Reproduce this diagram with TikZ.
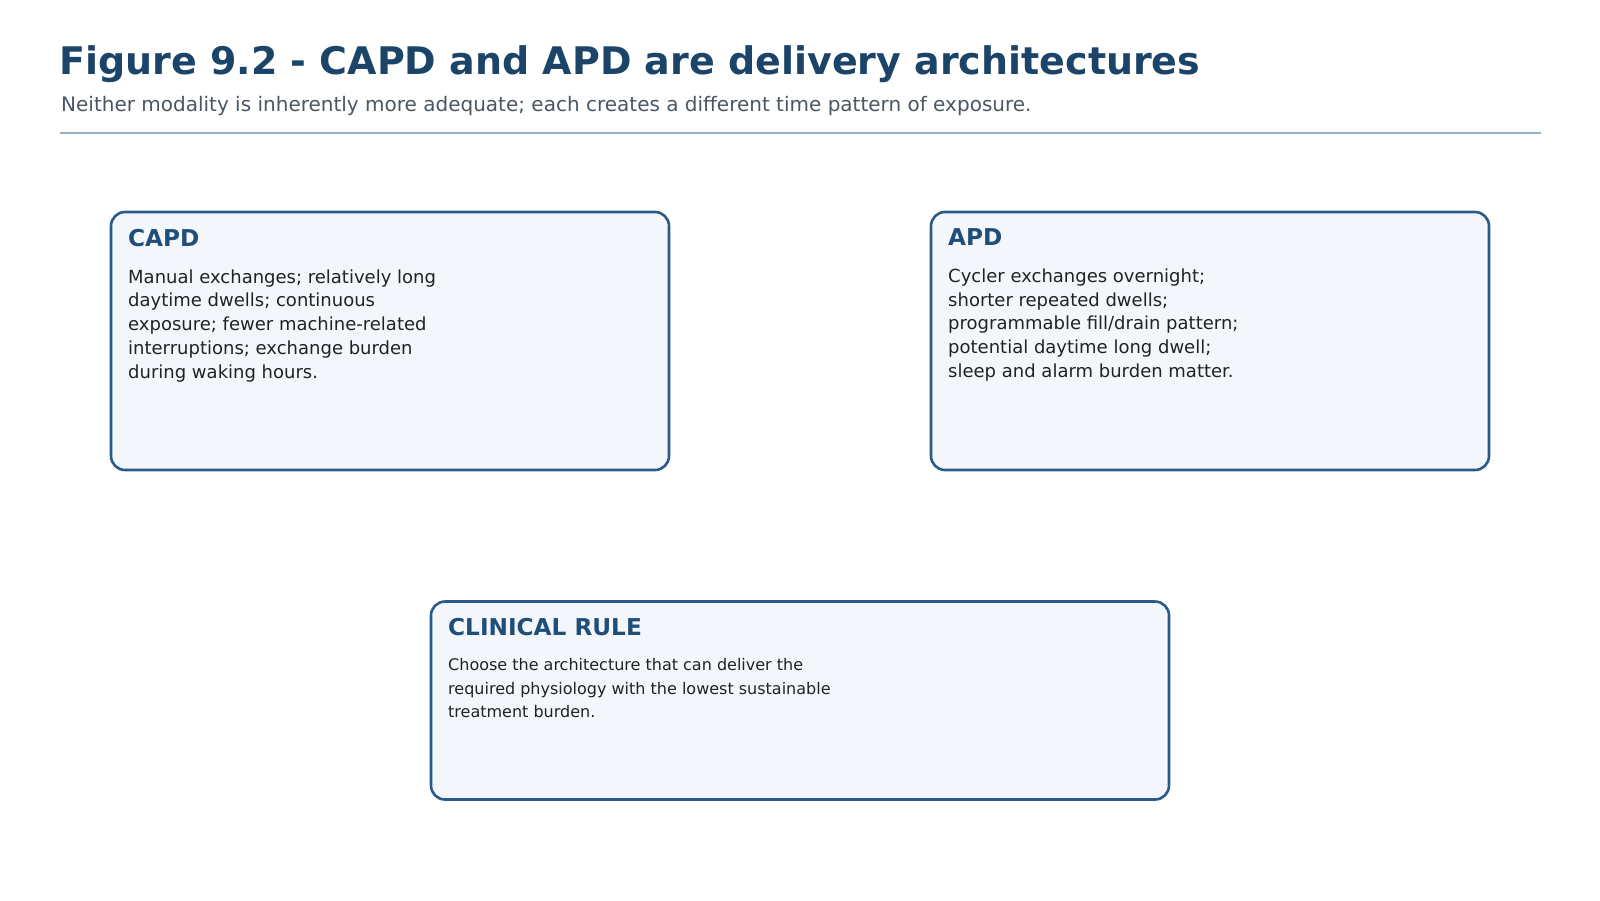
\documentclass[tikz,border=0pt]{standalone}
\usepackage{fontspec}
\setmainfont{DejaVu Sans}
\usetikzlibrary{positioning}
\definecolor{titleblue}{HTML}{1B4468}
\definecolor{cardedge}{HTML}{2A5A87}
\definecolor{cardfill}{HTML}{F3F6FB}
\definecolor{headblue}{HTML}{1F4E79}
\definecolor{subgray}{HTML}{4A5663}
\definecolor{rulegray}{HTML}{9AAEC2}
\definecolor{bodyink}{HTML}{222222}
\tikzset{
  card/.style={draw=cardedge, line width=2.6pt, fill=cardfill, rounded corners=14pt, inner sep=0pt, outer sep=0pt, anchor=north west},
  cardhead/.style={inner sep=0pt, text=headblue, font=\fontsize{23.2}{28}\selectfont\bfseries},
  cardbody/.style={inner sep=0pt, align=left, text=bodyink, font=\fontsize{18}{23.8}\selectfont},
}
\begin{document}
\begin{tikzpicture}[x=1pt,y=-1pt]
        \useasboundingbox (0,0) rectangle (1600,900);
        \node[anchor=base west, inner sep=0pt, text=titleblue, font=\fontsize{38}{46}\selectfont\bfseries] (title) at (59,74.3) {Figure 9.2 - CAPD and APD are delivery architectures};
        \node[anchor=base west, inner sep=0pt, text=subgray, font=\fontsize{20}{25}\selectfont] (subtitle) at (61,111) {Neither modality is inherently more adequate; each creates a different time pattern of exposure.};
        \coordinate (rulestart) at (60,132.7);
        \coordinate (ruleend) at (1541,132.7);
        \draw[rulegray, line width=2pt] (rulestart) -- (ruleend);
        \node[card, minimum width=558pt, minimum height=258pt] (capd) at (111,212) {};
        \node[cardhead, below right=16.8pt and 17pt of capd.north west] (capdhead) {CAPD};
        \node[cardbody, below right=22.4pt and 0pt of capdhead.south west] (capdbody) {Manual exchanges; relatively long\\daytime dwells; continuous\\exposure; fewer machine-related\\interruptions; exchange burden\\during waking hours.};
        \node[card, minimum width=558pt, minimum height=258pt] (apd) at (931,212) {};
        \node[cardhead, below right=16.8pt and 17pt of apd.north west] (apdhead) {APD};
        \node[cardbody, below right=22.4pt and 0pt of apdhead.south west] (apdbody) {Cycler exchanges overnight;\\shorter repeated dwells;\\programmable fill/drain pattern;\\potential daytime long dwell;\\sleep and alarm burden matter.};
        \node[card, minimum width=738pt, minimum height=198pt] (rule) at (431,601.5) {};
        \node[cardhead, below right=16.6pt and 17pt of rule.north west] (rulehead) {CLINICAL RULE};
        \node[cardbody, font=\fontsize{16}{23.5}\selectfont, below right=22.5pt and 0pt of rulehead.south west] (rulebody) {Choose the architecture that can deliver the\\required physiology with the lowest sustainable\\treatment burden.};
    \end{tikzpicture}
\end{document}
